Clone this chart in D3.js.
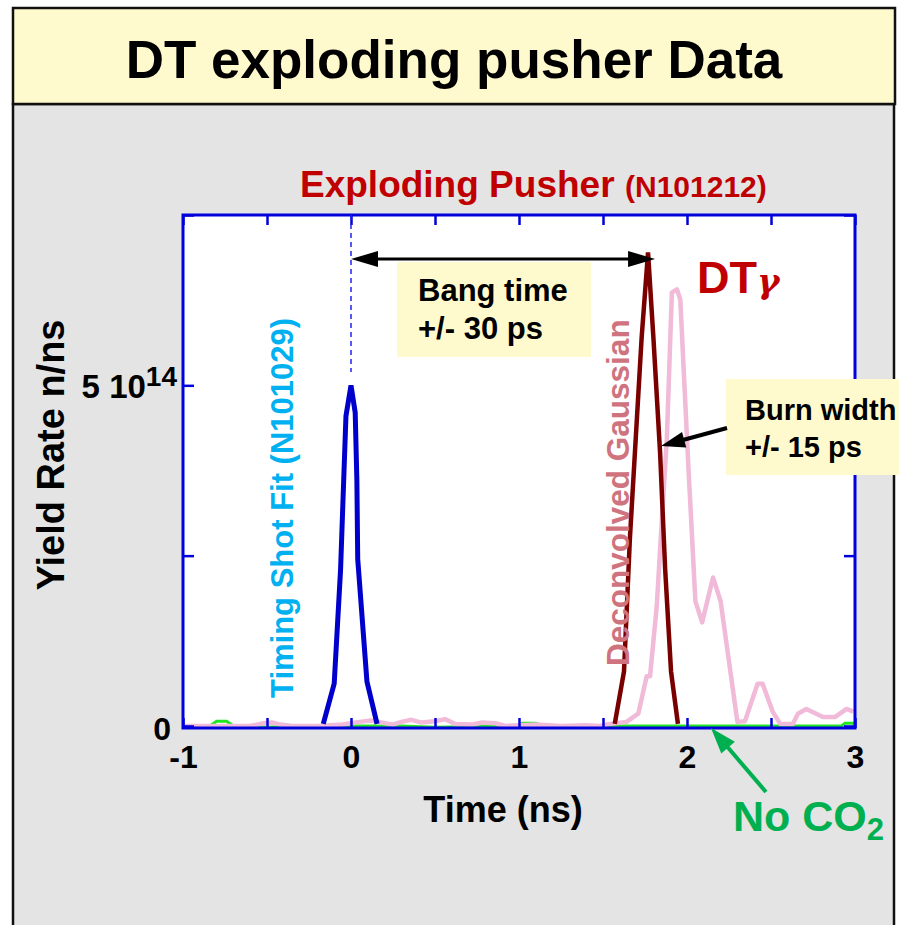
<!DOCTYPE html>
<html>
<head>
<meta charset="utf-8">
<title>DT exploding pusher Data</title>
<script src="https://d3js.org/d3.v7.min.js"></script>
<style>
  body { margin: 0; background: #fff; }
  svg text { font-family: "Liberation Sans", Arial, sans-serif; font-weight: bold; }
</style>
</head>
<body>
<svg id="chart" width="899" height="925"></svg>
<script>
// time axis (ns) and yield axis (units of 1e14 n/ns)
var timeTicks = [-1, -0.5, 0, 0.5, 1, 1.5, 2, 2.5, 3];
var yieldTicks = [0, 2.5, 5, 7.5];

// timing shot fit (N101029), blue
var fitT = [-0.165, -0.10, -0.062, -0.045, -0.03, 0.0, 0.025, 0.035, 0.04, 0.095, 0.155];
var fitY = [0.03, 0.62, 2.3, 3.5, 4.55, 5.0, 4.6, 3.6, 2.45, 0.65, 0.03];

// deconvolved gaussian, dark red
var gaussT = [1.57, 1.625, 1.66, 1.73, 1.768, 1.80, 1.84, 1.87, 1.905, 1.946];
var gaussY = [0.03, 0.8, 2.75, 5.7, 6.95, 5.7, 4.0, 2.3, 0.8, 0.03];

// DT gamma data, pink
var pinkT = [-1, -0.6, -0.52, -0.47, -0.42, -0.35, -0.2, -0.05, 0.05, 0.12, 0.18, 0.25, 0.3, 0.36, 0.42, 0.5, 0.56, 0.62,
             0.72, 0.78, 0.86, 0.92, 1.1, 1.25, 1.4, 1.48, 1.54, 1.64, 1.71, 1.76, 1.78, 1.82, 1.84, 1.88, 1.91, 1.94, 1.96,
             2.01, 2.05, 2.09, 2.155, 2.2, 2.3, 2.345, 2.42, 2.45, 2.51, 2.555, 2.63, 2.66, 2.71, 2.81, 2.88, 2.95, 2.99];
var pinkY = [0, 0, 0.04, 0.05, 0.02, 0, 0, 0.02, 0.06, 0.08, 0.05, 0.02, 0.06, 0.09, 0.05, 0.07, 0.1, 0.03,
             0.02, 0.05, 0.04, 0, 0.02, 0, 0.01, 0, 0.03, 0.06, 0.18, 0.73, 0.73, 1.76, 2.6, 4.21, 6.36, 6.41, 6.26,
             3.72, 1.83, 1.52, 2.18, 1.83, 0.06, 0.07, 0.62, 0.62, 0.21, 0.03, 0.03, 0.18, 0.25, 0.13, 0.13, 0.25, 0.21];

// no CO2 shot, green
var greenT = [-1, -0.84, -0.8, -0.74, -0.7, -0.5, -0.3, 0.3, 0.5, 0.99, 1.02, 1.1, 1.14, 1.2, 2.92, 2.94, 2.98, 3.0];
var greenY = [0, 0, 0.07, 0.07, 0, -0.02, 0, 0, -0.02, 0, 0.04, 0.04, 0, 0, 0, 0.04, 0.04, 0.04];

var bangT = [0, 1.81];   // bang time arrow ends

var svg = d3.select("#chart");

// slide background
svg.append("rect").attr("x", 13).attr("y", 104).attr("width", 881).attr("height", 830)
  .attr("fill", "#e4e4e4").attr("stroke", "#111").attr("stroke-width", 2.5);
svg.append("rect").attr("x", 13).attr("y", 8).attr("width", 882).attr("height", 96)
  .attr("fill", "#fffacd").attr("stroke", "#111").attr("stroke-width", 2.5);
svg.append("text").attr("x", 454).attr("y", 78).attr("text-anchor", "middle")
  .style("font-size", "53px").attr("fill", "#000").text("DT exploding pusher Data");

var x = d3.scaleLinear().domain([-1, 3]).range([183, 855]);
var y = d3.scaleLinear().domain([-0.03, 7.5]).range([728, 215]);

// plot area
svg.append("rect").attr("x", x(-1)).attr("y", y(7.5)).attr("width", x(3) - x(-1)).attr("height", y(-0.03) - y(7.5))
  .attr("fill", "#fff");

// subtitle
svg.append("text").attr("x", 300).attr("y", 197).attr("fill", "#c00000")
  .style("font-size", "37px").text("Exploding Pusher");
svg.append("text").attr("x", 625).attr("y", 197).attr("fill", "#c00000")
  .style("font-size", "30px").text("(N101212)");

function pts(ts, vs) { return ts.map(function(t, i) { return [t, vs[i]]; }); }
var line = d3.line().x(function(d) { return x(d[0]); }).y(function(d) { return y(d[1]); });

svg.append("path").datum(pts(greenT, greenY)).attr("d", line)
  .attr("fill", "none").attr("stroke", "#22e622").attr("stroke-width", 3);
svg.append("path").datum(pts(pinkT, pinkY)).attr("d", line)
  .attr("fill", "none").attr("stroke", "#f0bad8").attr("stroke-width", 4.5).attr("stroke-linejoin", "round");
svg.append("path").datum(pts(gaussT, gaussY)).attr("d", line)
  .attr("fill", "none").attr("stroke", "#7a0000").attr("stroke-width", 4.5);
svg.append("path").datum(pts(fitT, fitY)).attr("d", line)
  .attr("fill", "none").attr("stroke", "#0000cc").attr("stroke-width", 5);

// axes, ticks inward
var fmtX = function(d) { return Number.isInteger(d) ? String(d) : ""; };
var gx = svg.append("g").attr("transform", "translate(0," + y(-0.03) + ")")
  .call(d3.axisBottom(x).tickValues(timeTicks).tickSize(-10).tickPadding(17).tickFormat(fmtX));
var gt = svg.append("g").attr("transform", "translate(0," + y(7.5) + ")")
  .call(d3.axisTop(x).tickValues(timeTicks).tickSize(-10).tickFormat(""));
var gl = svg.append("g").attr("transform", "translate(" + x(-1) + ",0)")
  .call(d3.axisLeft(y).tickValues(yieldTicks).tickSize(-11).tickPadding(6)
    .tickFormat(function(d) { return d === 0 ? "0" : d === 5 ? "5 10" : ""; }));
var gr = svg.append("g").attr("transform", "translate(" + x(3) + ",0)")
  .call(d3.axisRight(y).tickValues(yieldTicks).tickSize(-11).tickFormat(""));

[gx, gt, gl, gr].forEach(function(g) {
  g.select(".domain").remove();
  g.selectAll(".tick line").attr("stroke", "#0000dd").attr("stroke-width", 2.5);
  g.selectAll(".tick text").attr("fill", "#000").style("font-size", "32px")
    .style("font-family", "'Liberation Sans', Arial, sans-serif").style("font-weight", "bold");
});
gl.selectAll(".tick text").filter(function(d) { return d === 0; }).attr("dx", -6).attr("dy", "0.42em");
gl.selectAll(".tick text").filter(function(d) { return d === 5; })
  .attr("dy", "0.38em").style("font-size", "33px")
  .append("tspan").attr("dy", "-0.45em").style("font-size", "28px").text("14");

svg.append("rect").attr("x", x(-1)).attr("y", y(7.5)).attr("width", x(3) - x(-1)).attr("height", y(-0.03) - y(7.5))
  .attr("fill", "none").attr("stroke", "#0000dd").attr("stroke-width", 3);

// axis titles
svg.append("text").attr("x", 503).attr("y", 822).attr("text-anchor", "middle")
  .style("font-size", "36px").text("Time (ns)");
svg.append("text").attr("transform", "translate(64,455) rotate(-90)").attr("text-anchor", "middle")
  .style("font-size", "38px").text("Yield Rate n/ns");

// curve labels
svg.append("text").attr("transform", "translate(293,698) rotate(-90)")
  .style("font-size", "31px").attr("fill", "#00b0f0").text("Timing Shot Fit (N101029)");
svg.append("text").attr("transform", "translate(629,666) rotate(-90)")
  .style("font-size", "31.5px").attr("fill", "#cf737f").text("Deconvolved Gaussian");

var dt = svg.append("text").attr("x", 697).attr("y", 293).attr("fill", "#c00000");
dt.append("tspan").style("font-size", "45px").text("DT");
dt.append("tspan").style("font-size", "34px").style("font-family", "'DejaVu Serif', serif").style("font-style", "italic").text("γ");

// bang time annotation
svg.append("line").attr("x1", x(0)).attr("x2", x(0)).attr("y1", y(7.5)).attr("y2", 372)
  .attr("stroke", "#2222ee").attr("stroke-width", 1.5).attr("stroke-dasharray", "5,4");
svg.append("rect").attr("x", 397).attr("y", 262).attr("width", 194).attr("height", 95).attr("fill", "#fffacd");
svg.append("text").attr("x", 418).attr("y", 301).style("font-size", "31px").text("Bang time");
svg.append("text").attr("x", 418).attr("y", 339).style("font-size", "31px").text("+/- 30 ps");

function arrowHead(tipX, tipY, ang, len, half, color) {
  var c = Math.cos(ang), s = Math.sin(ang);
  var bx = tipX - c * len, by = tipY - s * len;
  svg.append("polygon")
    .attr("points", [[tipX, tipY], [bx - s * half, by + c * half], [bx + s * half, by - c * half]].join(" "))
    .attr("fill", color);
}
var ay = 259;
svg.append("line").attr("x1", x(bangT[0]) + 20).attr("x2", x(bangT[1]) - 20).attr("y1", ay).attr("y2", ay)
  .attr("stroke", "#000").attr("stroke-width", 3);
arrowHead(x(bangT[0]), ay, Math.PI, 27, 8, "#000");
arrowHead(x(bangT[1]), ay, 0, 27, 8, "#000");

// burn width annotation
svg.append("rect").attr("x", 726).attr("y", 379).attr("width", 200).attr("height", 96).attr("fill", "#fffacd");
svg.append("text").attr("x", 745).attr("y", 420).style("font-size", "29px").text("Burn width");
svg.append("text").attr("x", 745).attr("y", 457).style("font-size", "29px").text("+/- 15 ps");
var bw = Math.atan2(446 - 428, 661 - 727);
svg.append("line").attr("x1", 727).attr("y1", 428).attr("x2", 661 - Math.cos(bw) * 18).attr("y2", 446 - Math.sin(bw) * 18)
  .attr("stroke", "#000").attr("stroke-width", 4);
arrowHead(661, 446, bw, 24, 8, "#000");

// no CO2 annotation
var ga = Math.atan2(728 - 790, 711 - 765);
svg.append("line").attr("x1", 766).attr("y1", 792).attr("x2", 711 - Math.cos(ga) * 18).attr("y2", 728 - Math.sin(ga) * 18)
  .attr("stroke", "#00b050").attr("stroke-width", 4);
arrowHead(711, 728, ga, 26, 9, "#00b050");
var co = svg.append("text").attr("x", 733).attr("y", 831).attr("fill", "#00b050");
co.append("tspan").style("font-size", "43px").text("No CO");
co.append("tspan").attr("dy", 9).style("font-size", "31px").text("2");
</script>
</body>
</html>
